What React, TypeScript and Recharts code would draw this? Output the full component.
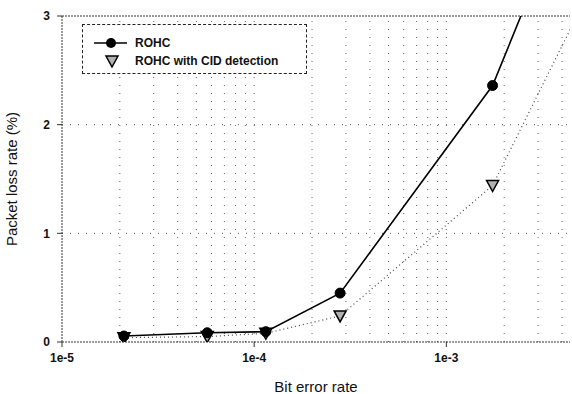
import React from "react";
import {
  ComposedChart,
  Line,
  XAxis,
  YAxis,
  ReferenceLine,
  Label,
} from "recharts";

// bit error rate of each run
const bitErrorRates = [2.1e-5, 5.7e-5, 1.15e-4, 2.8e-4, 1.74e-3, 5e-3];
// packet loss rate (%)
const rohcLoss = [0.055, 0.085, 0.095, 0.45, 2.36, 4.35];
const cidLoss = [0.04, 0.05, 0.08, 0.24, 1.44, 3.07];

const xTicks = [1e-5, 1e-4, 1e-3];
const yTicks = [0, 1, 2, 3];
const minorGridX = [
  2e-5, 3e-5, 4e-5, 5e-5, 6e-5, 7e-5, 8e-5, 9e-5, 1e-4,
  2e-4, 3e-4, 4e-4, 5e-4, 6e-4, 7e-4, 8e-4, 9e-4, 1e-3,
  2e-3, 3e-3, 4e-3,
];
const gridY = [1, 2];

const data = bitErrorRates.map((ber, i) => ({
  ber,
  rohc: rohcLoss[i],
  cid: cidLoss[i],
}));

const FONT = "'Liberation Sans', Arial, sans-serif";

const TriangleDot = (props: any) => {
  const { cx, cy } = props;
  if (cx == null || cy == null) return null;
  return (
    <path
      d={`M${cx - 6},${cy - 5} L${cx + 6},${cy - 5} L${cx},${cy + 6} Z`}
      fill="#b0b0b0"
      stroke="#000"
      strokeWidth={1.5}
    />
  );
};

const LegendBox = () => (
  <div
    style={{
      position: "absolute",
      left: 82,
      top: 24,
      width: 225,
      height: 50,
      border: "1.5px dashed #222",
      background: "#fff",
      fontFamily: FONT,
      fontSize: 12,
      fontWeight: "bold",
      color: "#111",
      boxSizing: "border-box",
    }}
  >
    <svg width={40} height={46} style={{ position: "absolute", left: 8, top: 0 }}>
      <line x1={3} y1={18} x2={36} y2={18} stroke="#000" strokeWidth={1.5} />
      <circle cx={20} cy={18} r={5} fill="#000" />
      <TriangleDot cx={21} cy={36} />
    </svg>
    <div style={{ position: "absolute", left: 52, top: 11 }}>ROHC</div>
    <div style={{ position: "absolute", left: 52, top: 29 }}>ROHC with CID detection</div>
  </div>
);

export default function App() {
  return (
    <div style={{ position: "absolute", left: 0, top: 0, width: 572, height: 394, background: "#fff" }}>
      <ComposedChart
        width={572}
        height={394}
        data={data}
        margin={{ top: 16, right: 2, left: 0, bottom: 0 }}
      >
        {minorGridX.map((v) => (
          <ReferenceLine
            key={`gx-${v}`}
            x={v}
            stroke="#666"
            strokeDasharray="1 7"
            ifOverflow="hidden"
          />
        ))}
        {gridY.map((v) => (
          <ReferenceLine key={`gy-${v}`} y={v} stroke="#555" strokeDasharray="1 7" />
        ))}
        <ReferenceLine y={3} stroke="#333" strokeDasharray="2 1" />
        <XAxis
          dataKey="ber"
          type="number"
          scale="log"
          domain={[1e-5, 4.4e-3]}
          allowDataOverflow
          ticks={xTicks}
          tickFormatter={(v: number) => `1e${Math.round(Math.log10(v))}`}
          height={52}
          tickSize={5}
          tickMargin={6}
          stroke="#333"
          axisLine={{ stroke: "#333", strokeDasharray: "2 1" }}
          tick={{ fill: "#111", fontSize: 12, fontWeight: "bold", fontFamily: FONT }}
        >
          <Label
            value="Bit error rate"
            position="insideBottom"
            offset={2}
            style={{ fill: "#111", fontSize: 15, fontFamily: FONT }}
          />
        </XAxis>
        <YAxis
          type="number"
          domain={[0, 3]}
          allowDataOverflow
          ticks={yTicks}
          width={62}
          tickSize={5}
          tickMargin={7}
          stroke="#333"
          axisLine={{ stroke: "#333", strokeDasharray: "2 1" }}
          tick={{ fill: "#111", fontSize: 12, fontWeight: "bold", fontFamily: FONT }}
        >
          <Label
            value="Packet loss rate (%)"
            angle={-90}
            position="insideLeft"
            offset={12}
            style={{ textAnchor: "middle", fill: "#111", fontSize: 15, fontFamily: FONT }}
          />
        </YAxis>
        <Line
          dataKey="cid"
          type="linear"
          stroke="#444"
          strokeWidth={1.2}
          strokeDasharray="1 3"
          dot={<TriangleDot />}
          activeDot={false}
          isAnimationActive={false}
        />
        <Line
          dataKey="rohc"
          type="linear"
          stroke="#000"
          strokeWidth={1.6}
          dot={{ r: 5, fill: "#000", stroke: "#000", strokeWidth: 1 }}
          activeDot={false}
          isAnimationActive={false}
        />
      </ComposedChart>
      <LegendBox />
    </div>
  );
}
